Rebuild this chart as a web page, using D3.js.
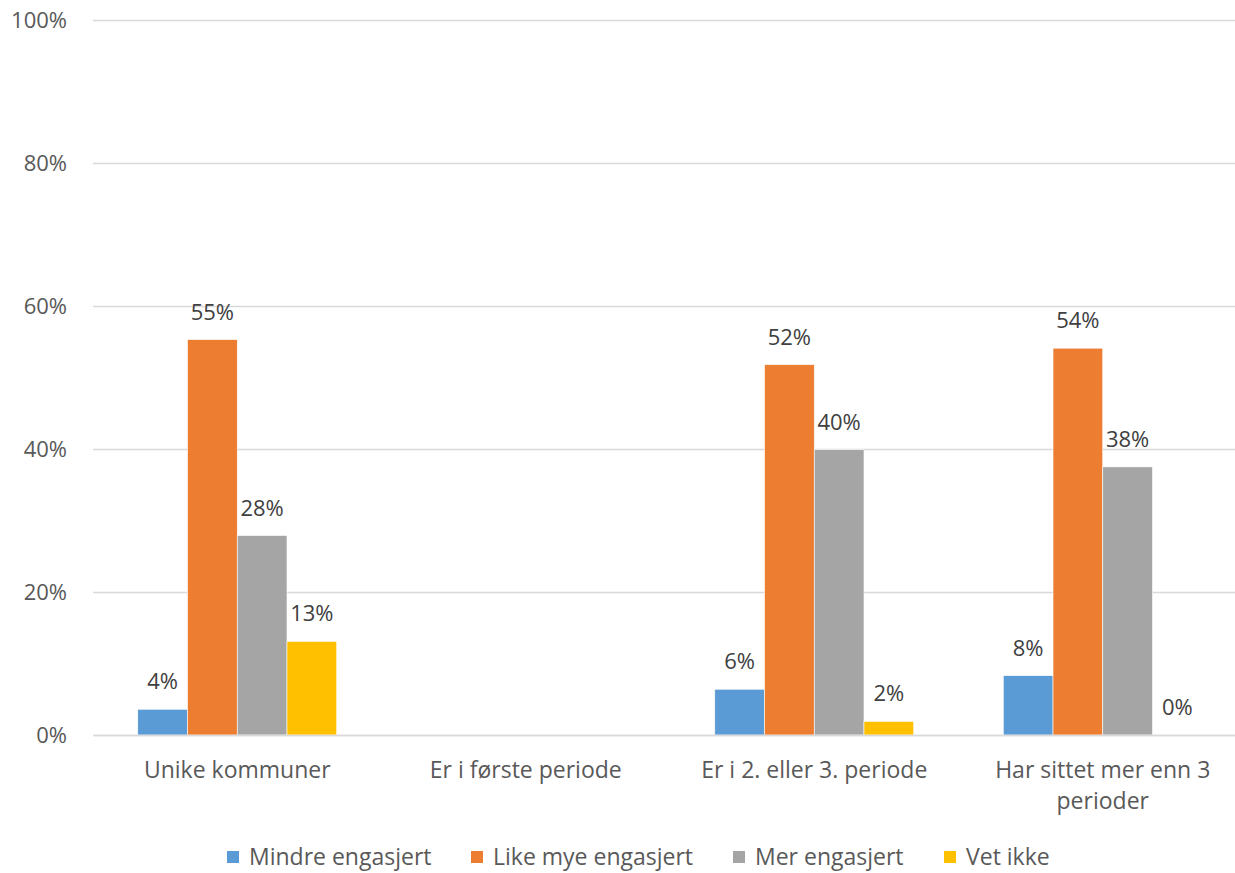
<!DOCTYPE html>
<html>
<head>
<meta charset="utf-8">
<script src="https://cdn.jsdelivr.net/npm/d3@7"></script>
<style>
  body { margin: 0; background: #fff; }
  svg { display: block; overflow: hidden; }
  text { font-family: "Open Sans", Lato, sans-serif; }
</style>
</head>
<body>
<svg id="chart"></svg>
<script>
// categories and series
var categories = ["Unike kommuner", "Er i første periode", "Er i 2. eller 3. periode", "Har sittet mer enn 3 perioder"];
var seriesNames = ["Mindre engasjert", "Like mye engasjert", "Mer engasjert", "Vet ikke"];
var seriesColors = ["#5B9BD5", "#ED7D31", "#A5A5A5", "#FFC000"];

// values per series (null = no data)
var mindre = [0.036, null, 0.064, 0.083];
var likeMye = [0.553, null, 0.518, 0.541];
var mer = [0.279, null, 0.399, 0.375];
var vetIkke = [0.131, null, 0.019, 0];

var yTicks = [0, 0.2, 0.4, 0.6, 0.8, 1];

var seriesValues = [mindre, likeMye, mer, vetIkke];

var totalWidth = 1235, totalHeight = 873;
var margin = { top: 20, left: 93, bottom: 138 };
var plotRight = 1247;
var height = totalHeight - margin.top - margin.bottom;

var svg = d3.select("#chart")
    .attr("width", totalWidth)
    .attr("height", totalHeight);

var x0 = d3.scaleBand()
    .domain(categories)
    .range([margin.left, plotRight])
    .paddingInner(0)
    .paddingOuter(0);

var x1 = d3.scaleBand()
    .domain(seriesNames)
    .range([0, x0.bandwidth()])
    .paddingInner(0)
    .paddingOuter(0.9);

var y = d3.scaleLinear()
    .domain([0, 1])
    .range([margin.top + height, margin.top]);

var color = d3.scaleOrdinal()
    .domain(seriesNames)
    .range(seriesColors);

// gridlines + y labels
var yAxis = svg.append("g")
    .attr("class", "y axis")
    .attr("transform", "translate(" + margin.left + ",0)")
    .call(d3.axisLeft(y).tickValues(yTicks).tickFormat(d3.format(".0%"))
        .tickSize(-(plotRight - margin.left)).tickPadding(26));
yAxis.select(".domain").remove();
yAxis.selectAll("line").attr("stroke", "#D9D9D9").attr("stroke-width", 1.5);
yAxis.selectAll("text")
    .attr("fill", "#595959")
    .style("font-size", "22px");

// flatten data
var barData = [];
seriesNames.forEach(function(s, i) {
    categories.forEach(function(c, j) {
        var v = seriesValues[i][j];
        if (v !== null) barData.push({ series: s, category: c, value: v });
    });
});

svg.selectAll(".bar")
    .data(barData)
    .enter()
    .append("rect")
    .attr("class", "bar")
    .attr("x", function(d) { return x0(d.category) + x1(d.series); })
    .attr("y", function(d) { return y(d.value); })
    .attr("width", x1.bandwidth())
    .attr("height", function(d) { return y(0) - y(d.value); })
    .attr("fill", function(d) { return color(d.series); })
    .attr("stroke", "#fff")
    .attr("stroke-width", 0.6);

svg.selectAll(".label")
    .data(barData)
    .enter()
    .append("text")
    .attr("class", "label")
    .attr("x", function(d) { return x0(d.category) + x1(d.series) + x1.bandwidth() / 2; })
    .attr("y", function(d) { return y(d.value) - 20; })
    .attr("text-anchor", "middle")
    .attr("fill", "#404040")
    .style("font-size", "22px")
    .text(function(d) { return Math.round(d.value * 100) + "%"; });

// x axis
var xAxis = svg.append("g")
    .attr("class", "x axis")
    .attr("transform", "translate(0," + y(0) + ")")
    .call(d3.axisBottom(x0).tickSize(0).tickPadding(27));
xAxis.select(".domain").attr("stroke", "#D9D9D9").attr("stroke-width", 1.5);
xAxis.selectAll("text")
    .attr("fill", "#595959")
    .style("font-size", "23px")
    .call(wrap, 260);

function wrap(texts, width) {
    texts.each(function() {
        var text = d3.select(this);
        var words = text.text().split(/\s+/).reverse();
        var line = [];
        var lineNumber = 0;
        var yy = text.attr("y");
        var dy = parseFloat(text.attr("dy"));
        var tspan = text.text(null).append("tspan").attr("x", 0).attr("y", yy).attr("dy", dy + "em");
        var word;
        while ((word = words.pop())) {
            line.push(word);
            tspan.text(line.join(" "));
            if (tspan.node().getComputedTextLength() > width && line.length > 1) {
                line.pop();
                tspan.text(line.join(" "));
                line = [word];
                tspan = text.append("tspan").attr("x", 0).attr("y", yy)
                    .attr("dy", (++lineNumber * 1.35 + dy) + "em").text(word);
            }
        }
    });
}

// legend
var legendX = [227, 471, 733, 944];
var legend = svg.append("g").attr("class", "legend");
var items = legend.selectAll("g")
    .data(seriesNames)
    .enter()
    .append("g")
    .attr("transform", function(d, i) { return "translate(" + legendX[i] + ",857)"; });
items.append("rect")
    .attr("x", 0)
    .attr("y", -6)
    .attr("width", 12)
    .attr("height", 12)
    .attr("fill", function(d) { return color(d); });
items.append("text")
    .attr("x", 22)
    .attr("y", 0)
    .attr("dy", "0.35em")
    .attr("fill", "#595959")
    .style("font-size", "23px")
    .text(function(d) { return d; });
</script>
</body>
</html>
